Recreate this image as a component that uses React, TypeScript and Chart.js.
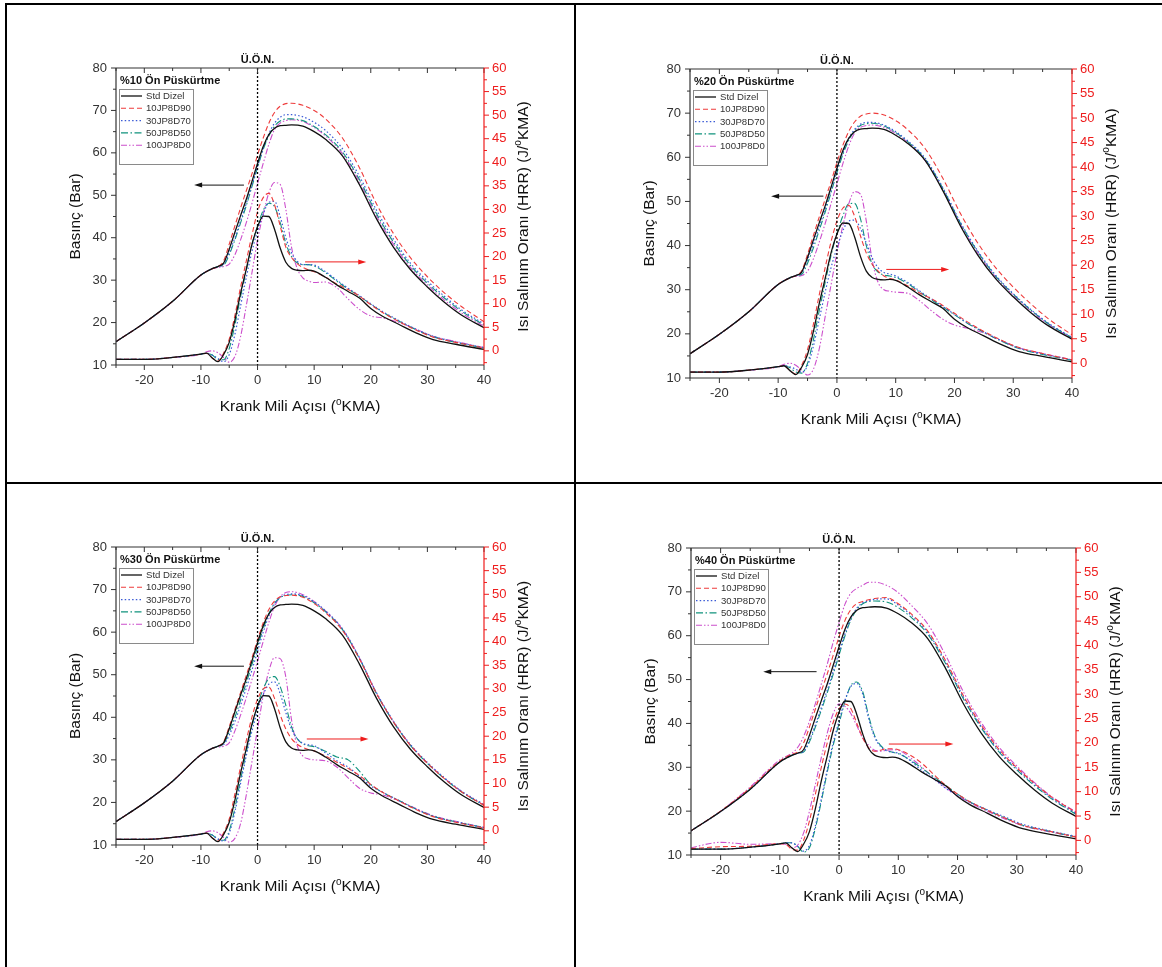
import React, { useEffect, useRef } from "react";
import { Chart, registerables } from "chart.js";

Chart.register(...registerables);

// ---------- data ----------
const SERIES = ["Std Dizel", "10JP8D90", "30JP8D70", "50JP8D50", "100JP8D0"];
const PANEL_TITLES = ["%10 Ön Püskürtme", "%20 Ön Püskürtme", "%30 Ön Püskürtme", "%40 Ön Püskürtme"];
const TDC_LABEL = "Ü.Ö.N.";

const X_TICKS = [-20, -10, 0, 10, 20, 30, 40];
const X_MINOR = [-25, -15, -5, 5, 15, 25, 35];
const Y_TICKS = [10, 20, 30, 40, 50, 60, 70, 80];
const Y_MINOR = [15, 25, 35, 45, 55, 65, 75];
const Y2_TICKS = [0, 5, 10, 15, 20, 25, 30, 35, 40, 45, 50, 55, 60];
const Y2_MINOR = [-2.5, 2.5, 7.5, 12.5, 17.5, 22.5, 27.5, 32.5, 37.5, 42.5, 47.5, 52.5, 57.5];

// crank angle grids
const PX = [-25, -20, -15, -10, -8, -7, -6, -5, -4, -3, -2, -1, 0, 1, 2, 3, 4, 5, 6, 8, 10, 12, 15, 18, 21, 24, 27, 30, 33, 36, 40];
const HX = [-25, -20, -15, -10, -9, -8, -7, -6, -5, -4, -3, -2, -1, 0, 1, 2, 3, 4, 5, 6, 7, 8, 9, 10, 12, 14, 16, 18, 20, 22, 25, 28, 31, 35, 40];

// Std Dizel (same reference curve in every panel)
const STD_P = [15.5, 19.9, 25.0, 31.2, 32.7, 33.2, 34.0, 37.3, 41.3, 45.2, 49.0, 53.2, 57.5, 61.5, 64.3, 65.8, 66.4, 66.5, 66.6, 66.3, 65.0, 63.2, 59.3, 52.5, 44.5, 37.8, 32.5, 28.4, 24.8, 21.8, 18.8];
const STD_H = [-1.8, -1.8, -1.4, -0.7, -0.5, -1.5, -2.3, -0.8, 1.8, 6.5, 12.2, 17.3, 22.5, 26.3, 28.6, 28.5, 25.8, 21.8, 18.8, 17.5, 17.1, 17.0, 17.1, 16.9, 15.6, 14.0, 12.6, 11.2, 9.0, 7.4, 5.6, 3.8, 2.4, 1.4, 0.3];

// %10
const P10_P_R = [15.5, 19.9, 25.0, 31.2, 32.7, 33.2, 34.5, 38.5, 42.8, 47.0, 51.0, 55.0, 59.5, 63.5, 67.0, 69.5, 71.0, 71.6, 71.7, 71.2, 70.0, 68.0, 63.5, 56.5, 48.0, 41.0, 35.3, 30.8, 27.0, 23.8, 20.2];
const P10_P_B = [15.5, 19.9, 25.0, 31.2, 32.7, 33.2, 33.7, 36.5, 40.0, 44.0, 48.0, 52.3, 56.8, 61.0, 64.5, 67.0, 68.4, 69.0, 69.0, 68.5, 67.2, 65.3, 61.0, 54.5, 46.5, 39.7, 34.0, 29.8, 26.2, 23.0, 19.7];
const P10_P_T = [15.5, 19.9, 25.0, 31.2, 32.7, 33.2, 33.5, 36.0, 39.5, 43.5, 47.5, 52.0, 56.5, 60.8, 64.0, 66.3, 67.5, 68.0, 68.0, 67.6, 66.2, 64.3, 60.2, 53.7, 45.7, 39.0, 33.5, 29.3, 25.8, 22.7, 19.4];
const P10_P_M = [15.5, 19.9, 25.0, 31.2, 32.7, 33.0, 33.2, 33.8, 36.0, 39.5, 43.5, 48.0, 52.8, 57.5, 62.0, 65.5, 67.0, 67.6, 67.8, 67.4, 66.0, 64.0, 59.8, 53.2, 45.2, 38.5, 33.0, 28.9, 25.3, 22.3, 19.1];
const P10_H_R = [-1.8, -1.8, -1.4, -0.7, -0.5, -1.5, -2.2, -0.5, 2.5, 7.5, 13.5, 19.0, 24.5, 29.5, 32.5, 33.4, 31.0, 26.5, 22.0, 19.8, 18.5, 17.7, 17.2, 16.8, 15.6, 14.2, 13.0, 11.6, 9.8, 8.2, 6.2, 4.4, 2.9, 1.8, 0.6];
const P10_H_B = [-1.8, -1.8, -1.4, -0.7, -0.5, -0.9, -1.6, -2.3, -0.8, 3.5, 9.5, 15.5, 21.0, 25.5, 29.0, 31.5, 31.7, 28.5, 24.0, 20.8, 19.0, 18.3, 18.3, 18.2, 16.8, 15.0, 13.3, 11.7, 10.0, 8.4, 6.4, 4.6, 3.1, 1.9, 0.7];
const P10_H_T = [-1.8, -1.8, -1.4, -0.7, -0.5, -0.9, -1.8, -1.9, 0.5, 5.5, 11.5, 17.0, 22.5, 26.5, 29.8, 31.3, 30.6, 27.2, 22.8, 20.0, 18.7, 18.3, 18.3, 18.0, 16.6, 14.8, 13.1, 11.6, 9.9, 8.3, 6.3, 4.5, 3.0, 1.8, 0.6];
const P10_H_M = [-1.8, -1.8, -1.4, -0.7, -0.2, 0.0, -0.4, -1.4, -2.4, -1.2, 3.0, 9.5, 16.5, 23.5, 29.0, 33.5, 35.7, 35.3, 30.0, 22.0, 17.5, 15.5, 14.8, 14.5, 14.6, 13.4, 11.0, 8.8, 7.4, 7.0, 6.0, 4.6, 3.1, 2.0, 0.7];

// %20
const P20_P_R = [15.5, 19.9, 25.0, 31.2, 32.7, 33.2, 34.3, 38.0, 42.3, 46.5, 50.5, 54.5, 58.8, 62.7, 65.8, 68.0, 69.3, 69.8, 70.0, 69.6, 68.3, 66.3, 62.0, 55.3, 47.3, 40.5, 35.0, 30.6, 26.8, 23.4, 19.8];
const P20_P_B = [15.5, 19.9, 25.0, 31.2, 32.7, 33.2, 33.8, 36.8, 40.4, 44.3, 48.3, 52.5, 57.0, 61.0, 64.2, 66.3, 67.5, 67.9, 67.9, 67.3, 65.8, 63.8, 59.8, 53.2, 45.3, 38.7, 33.3, 29.1, 25.5, 22.4, 19.2];
const P20_P_T = [15.5, 19.9, 25.0, 31.2, 32.7, 33.2, 33.5, 36.0, 39.5, 43.5, 47.6, 52.0, 56.5, 60.6, 63.8, 66.0, 67.2, 67.6, 67.7, 67.1, 65.6, 63.6, 59.6, 53.0, 45.1, 38.5, 33.1, 29.0, 25.4, 22.3, 19.1];
const P20_P_M = [15.5, 19.9, 25.0, 31.2, 32.7, 33.0, 33.2, 34.2, 37.0, 40.8, 45.0, 49.5, 54.0, 58.5, 62.5, 65.5, 66.8, 67.2, 67.3, 66.8, 65.4, 63.4, 59.3, 52.7, 44.8, 38.2, 32.9, 28.8, 25.2, 22.1, 19.0];
const P20_H_R = [-1.8, -1.8, -1.4, -0.7, -0.5, -1.5, -2.2, -0.4, 2.8, 8.0, 14.0, 19.5, 24.8, 29.0, 31.6, 32.2, 30.0, 26.0, 22.5, 20.2, 18.8, 17.8, 17.3, 17.0, 15.8, 14.4, 13.2, 11.8, 10.2, 8.6, 6.5, 4.7, 3.2, 2.0, 0.7];
const P20_H_B = [-1.8, -1.8, -1.4, -0.7, -0.5, -0.7, -1.2, -1.8, -0.5, 3.5, 9.0, 14.5, 19.5, 23.5, 27.0, 29.0, 29.2, 27.5, 24.5, 21.5, 19.5, 18.5, 18.2, 17.8, 16.5, 14.8, 13.2, 11.6, 10.0, 8.4, 6.4, 4.6, 3.1, 1.9, 0.7];
const P20_H_T = [-1.8, -1.8, -1.4, -0.7, -0.5, -0.9, -1.8, -2.0, 0.0, 4.8, 10.8, 16.5, 22.0, 26.5, 30.0, 32.5, 32.6, 29.5, 24.0, 20.2, 18.6, 18.0, 17.8, 17.5, 16.3, 14.6, 13.0, 11.5, 9.9, 8.3, 6.3, 4.5, 3.0, 1.8, 0.6];
const P20_H_M = [-1.8, -1.8, -1.4, -0.7, -0.2, 0.0, -0.4, -1.4, -2.4, -1.2, 3.0, 9.5, 16.0, 22.5, 28.0, 32.5, 35.0, 34.5, 29.0, 21.0, 16.5, 15.0, 14.7, 14.5, 14.3, 12.8, 10.8, 9.0, 7.8, 7.2, 6.2, 4.6, 3.1, 2.0, 0.7];

// %30
const P30_P_R = [15.5, 19.9, 25.0, 31.2, 32.7, 33.2, 34.2, 37.8, 41.8, 45.8, 49.8, 53.9, 58.2, 62.2, 65.3, 67.3, 68.3, 68.6, 68.7, 68.2, 66.7, 64.6, 60.4, 53.7, 45.6, 38.9, 33.4, 29.2, 25.6, 22.5, 19.3];
const P30_P_B = [15.5, 19.9, 25.0, 31.2, 32.7, 33.2, 33.6, 35.8, 39.0, 42.8, 46.8, 51.0, 55.5, 60.0, 63.8, 66.6, 68.2, 68.8, 69.0, 68.6, 67.1, 65.0, 60.8, 54.0, 45.8, 39.1, 33.6, 29.4, 25.8, 22.7, 19.5];
const P30_P_T = [15.5, 19.9, 25.0, 31.2, 32.7, 33.2, 33.8, 36.5, 40.0, 44.0, 48.0, 52.3, 56.6, 60.8, 64.3, 66.8, 68.1, 68.6, 68.8, 68.4, 66.9, 64.8, 60.6, 53.8, 45.6, 38.9, 33.4, 29.2, 25.6, 22.5, 19.3];
const P30_P_M = [15.5, 19.9, 25.0, 31.2, 32.7, 33.0, 33.2, 34.0, 36.8, 40.5, 44.5, 48.8, 53.2, 57.8, 62.3, 66.0, 68.3, 69.3, 69.5, 68.8, 67.2, 65.0, 60.7, 53.9, 45.7, 39.0, 33.5, 29.3, 25.7, 22.6, 19.4];
const P30_H_R = [-1.8, -1.8, -1.4, -0.7, -0.5, -1.5, -2.2, -0.4, 2.5, 7.8, 13.5, 19.0, 24.0, 27.8, 30.0, 30.4, 28.0, 24.5, 21.5, 19.5, 18.3, 17.6, 17.2, 16.9, 15.8, 14.5, 13.2, 11.7, 9.8, 8.2, 6.3, 4.5, 3.0, 1.8, 0.6];
const P30_H_B = [-1.8, -1.8, -1.4, -0.7, -0.5, -0.9, -1.7, -2.2, -0.5, 4.0, 10.0, 15.8, 21.0, 25.3, 28.8, 31.0, 31.5, 29.0, 25.0, 21.5, 19.5, 18.5, 18.2, 18.0, 16.5, 14.8, 13.5, 11.5, 9.5, 8.2, 6.4, 4.6, 3.1, 1.9, 0.7];
const P30_H_T = [-1.8, -1.8, -1.4, -0.7, -0.5, -0.9, -1.8, -2.0, 0.0, 4.8, 10.8, 16.5, 22.0, 26.5, 30.0, 32.2, 32.6, 30.5, 26.5, 22.0, 19.5, 18.4, 18.0, 17.8, 16.8, 15.6, 15.0, 12.6, 9.8, 8.2, 6.4, 4.6, 3.1, 1.9, 0.7];
const P30_H_M = [-1.8, -1.8, -1.4, -0.7, -0.2, 0.0, -0.4, -1.4, -2.4, -1.6, 1.5, 7.5, 14.5, 21.5, 28.5, 33.8, 36.6, 36.4, 32.5, 23.5, 18.0, 15.8, 15.2, 15.0, 14.8, 13.5, 11.2, 9.0, 8.0, 7.6, 6.3, 4.7, 3.2, 2.0, 0.7];

// %40
const P40_P_R = [15.5, 20.0, 25.3, 31.4, 33.0, 33.5, 35.5, 39.2, 43.3, 47.3, 51.3, 55.5, 59.8, 63.5, 66.0, 67.3, 67.8, 68.2, 68.5, 68.7, 67.3, 65.2, 61.0, 54.3, 46.3, 39.6, 34.1, 29.9, 26.3, 23.1, 19.7];
const P40_P_B = [15.5, 19.9, 25.0, 31.2, 32.7, 33.2, 33.6, 36.2, 39.7, 43.6, 47.6, 51.8, 56.2, 60.5, 64.0, 66.3, 67.5, 68.0, 68.3, 68.4, 67.0, 64.9, 60.7, 54.0, 46.0, 39.3, 33.8, 29.7, 26.1, 22.9, 19.5];
const P40_P_T = [15.5, 19.9, 25.0, 31.2, 32.7, 33.2, 33.5, 35.8, 39.2, 43.0, 47.0, 51.2, 55.6, 60.0, 63.6, 66.0, 67.3, 67.8, 67.9, 67.7, 66.4, 64.4, 60.3, 53.6, 45.6, 39.0, 33.5, 29.4, 25.8, 22.7, 19.3];
const P40_P_M = [15.5, 20.0, 25.5, 31.7, 33.2, 34.5, 37.0, 40.5, 44.5, 49.0, 53.5, 58.5, 63.0, 67.2, 69.7, 70.8, 71.5, 72.2, 72.2, 71.5, 69.8, 67.2, 62.6, 55.5, 47.2, 40.2, 34.6, 30.3, 26.5, 23.2, 19.8];
const P40_H_R = [-1.7, -1.3, -1.2, -0.7, -0.8, -1.8, -2.0, 0.0, 4.0, 9.5, 15.0, 20.0, 24.2, 27.0, 28.0, 27.0, 24.0, 21.0, 19.0, 18.3, 18.5, 18.8, 18.8, 18.6, 17.5, 15.8, 13.5, 11.3, 9.5, 8.0, 6.2, 4.6, 3.1, 2.0, 0.7];
const P40_H_B = [-1.8, -1.8, -1.4, -0.7, -0.5, -0.5, -1.2, -2.2, -1.0, 3.0, 8.5, 14.5, 20.0, 24.5, 28.8, 31.6, 32.2, 30.0, 25.0, 21.2, 19.3, 18.4, 18.1, 17.9, 16.4, 14.3, 12.6, 10.7, 9.2, 7.9, 6.3, 4.8, 3.3, 2.1, 0.8];
const P40_H_T = [-1.8, -1.8, -1.4, -0.7, -0.5, -0.5, -1.2, -2.4, -1.5, 2.5, 8.0, 14.0, 19.5, 24.0, 28.5, 31.8, 32.5, 30.5, 25.5, 21.5, 19.5, 18.5, 18.1, 17.8, 16.5, 14.8, 13.0, 11.3, 9.5, 8.0, 6.2, 4.6, 3.1, 2.0, 0.7];
const P40_H_M = [-1.5, -0.4, -0.8, -0.7, -0.8, -1.5, -1.0, 1.5, 6.0, 11.5, 17.0, 22.0, 26.0, 28.0, 27.5, 26.0, 23.5, 21.0, 19.5, 18.5, 18.3, 18.5, 18.6, 18.5, 17.0, 15.0, 12.8, 10.8, 9.2, 7.8, 6.0, 4.4, 3.0, 1.9, 0.7];

// annotation arrows: [tail x, head x, y (bar)]
const ARROW_LEFT = [[-2.4, -11.2, 52.4], [-2.3, -11.2, 51.2], [-2.4, -11.2, 52.0], [-3.8, -12.8, 51.8]];
const ARROW_RIGHT = [[8.4, 19.2, 34.3], [8.4, 19.1, 34.6], [8.7, 19.6, 34.9], [8.4, 19.3, 35.3]];

const PRESSURES = [
  [STD_P, P10_P_R, P10_P_B, P10_P_T, P10_P_M],
  [STD_P, P20_P_R, P20_P_B, P20_P_T, P20_P_M],
  [STD_P, P30_P_R, P30_P_B, P30_P_T, P30_P_M],
  [STD_P, P40_P_R, P40_P_B, P40_P_T, P40_P_M],
];
const HRRS = [
  [STD_H, P10_H_R, P10_H_B, P10_H_T, P10_H_M],
  [STD_H, P20_H_R, P20_H_B, P20_H_T, P20_H_M],
  [STD_H, P30_H_R, P30_H_B, P30_H_T, P30_H_M],
  [STD_H, P40_H_R, P40_H_B, P40_H_T, P40_H_M],
];

// ---------- layout & style ----------
const LAYOUT = [
  { l: 116, t: 68, w: 368, h: 297 },
  { l: 690, t: 69, w: 382, h: 309 },
  { l: 116, t: 547, w: 368, h: 298 },
  { l: 691, t: 548, w: 385, h: 307 },
];
const PAD_L = 90, PAD_R = 70, PAD_T = 40, PAD_B = 60;

const FONT = '"Liberation Sans", Arial, Helvetica, sans-serif';
const AXIS = "#333333";
const RED = "#ee1c1c";
const STYLE = [
  { color: "#111111", dash: [] as number[], width: 1.3 },
  { color: "#ee3b3b", dash: [5, 3], width: 1.1 },
  { color: "#3b5bd6", dash: [1.5, 2.2], width: 1.2 },
  { color: "#10937d", dash: [7, 2.5, 1.5, 2.5], width: 1.1 },
  { color: "#cc4fcc", dash: [6, 2, 1.5, 2, 1.5, 2], width: 1.1 },
];

type Part = [string, boolean];
const X_TITLE: Part[] = [["Krank Mili Açısı (", false], ["o", true], ["KMA)", false]];
const Y_TITLE: Part[] = [["Basınç (Bar)", false]];
const Y2_TITLE: Part[] = [["Isı Salınım Oranı (HRR) (J/", false], ["o", true], ["KMA)", false]];

function drawRich(ctx: CanvasRenderingContext2D, parts: Part[], cx: number, cy: number, size: number) {
  const fn = `${size}px ${FONT}`;
  const fs = `${Math.round(size * 0.64)}px ${FONT}`;
  let total = 0;
  for (const [t, sup] of parts) {
    ctx.font = sup ? fs : fn;
    total += ctx.measureText(t).width;
  }
  let x = cx - total / 2;
  ctx.textAlign = "left";
  ctx.textBaseline = "middle";
  for (const [t, sup] of parts) {
    ctx.font = sup ? fs : fn;
    ctx.fillText(t, x, sup ? cy - size * 0.33 : cy);
    x += ctx.measureText(t).width;
  }
}

function seg(ctx: CanvasRenderingContext2D, x1: number, y1: number, x2: number, y2: number) {
  ctx.beginPath();
  ctx.moveTo(x1, y1);
  ctx.lineTo(x2, y2);
  ctx.stroke();
}

function arrow(ctx: CanvasRenderingContext2D, x1: number, x2: number, y: number, color: string) {
  ctx.strokeStyle = color;
  ctx.fillStyle = color;
  ctx.lineWidth = 1;
  ctx.setLineDash([]);
  const dir = Math.sign(x2 - x1);
  seg(ctx, x1, y, x2 - dir * 5, y);
  ctx.beginPath();
  ctx.moveTo(x2, y);
  ctx.lineTo(x2 - dir * 8, y - 2.5);
  ctx.lineTo(x2 - dir * 8, y + 2.5);
  ctx.closePath();
  ctx.fill();
}

function makeDecor(idx: number) {
  return {
    id: "decor" + idx,
    afterDraw(chart: any) {
      const { ctx, chartArea: a, scales } = chart;
      const sx = scales.x, sy = scales.y, sy2 = scales.y2;
      ctx.save();
      // TDC dotted line
      const x0 = sx.getPixelForValue(0);
      ctx.strokeStyle = "#000";
      ctx.lineWidth = 1.3;
      ctx.setLineDash([2, 2]);
      seg(ctx, x0, a.top, x0, a.bottom);
      ctx.setLineDash([]);
      // frame
      ctx.strokeStyle = AXIS;
      ctx.lineWidth = 1.2;
      seg(ctx, a.left, a.top, a.right, a.top);
      seg(ctx, a.left, a.top, a.left, a.bottom);
      seg(ctx, a.left, a.bottom, a.right, a.bottom);
      ctx.lineWidth = 1;
      for (const v of X_TICKS) {
        const p = sx.getPixelForValue(v);
        seg(ctx, p, a.bottom, p, a.bottom + 5);
        seg(ctx, p, a.top, p, a.top + 5);
      }
      for (const v of X_MINOR) {
        const p = sx.getPixelForValue(v);
        seg(ctx, p, a.bottom, p, a.bottom + 3);
        seg(ctx, p, a.top, p, a.top + 3);
      }
      for (const v of Y_TICKS) {
        const p = sy.getPixelForValue(v);
        seg(ctx, a.left - 5, p, a.left, p);
      }
      for (const v of Y_MINOR) {
        const p = sy.getPixelForValue(v);
        seg(ctx, a.left - 3, p, a.left, p);
      }
      // right red axis
      ctx.strokeStyle = RED;
      ctx.lineWidth = 1.2;
      seg(ctx, a.right, a.top, a.right, a.bottom);
      ctx.lineWidth = 1;
      for (const v of Y2_TICKS) {
        const p = sy2.getPixelForValue(v);
        seg(ctx, a.right, p, a.right + 5, p);
      }
      for (const v of Y2_MINOR) {
        const p = sy2.getPixelForValue(v);
        seg(ctx, a.right, p, a.right + 3, p);
      }
      // TDC label
      ctx.fillStyle = "#111";
      ctx.font = `bold 11px ${FONT}`;
      ctx.textAlign = "center";
      ctx.textBaseline = "middle";
      ctx.fillText(TDC_LABEL, x0, a.top - 8.5);
      // axis titles
      ctx.fillStyle = "#111";
      drawRich(ctx, X_TITLE, (a.left + a.right) / 2, a.bottom + 42, 15.5);
      ctx.save();
      ctx.translate(a.left - 40, (a.top + a.bottom) / 2);
      ctx.rotate(-Math.PI / 2);
      drawRich(ctx, Y_TITLE, 0, 0, 15.5);
      ctx.restore();
      ctx.save();
      ctx.translate(a.right + 39.5, (a.top + a.bottom) / 2);
      ctx.rotate(-Math.PI / 2);
      drawRich(ctx, Y2_TITLE, 0, 0, 15.5);
      ctx.restore();
      // legend
      ctx.fillStyle = "#111";
      ctx.font = `bold 11px ${FONT}`;
      ctx.textAlign = "left";
      ctx.textBaseline = "middle";
      ctx.fillText(PANEL_TITLES[idx], a.left + 4, a.top + 13);
      ctx.strokeStyle = "#8a8a8a";
      ctx.lineWidth = 1;
      ctx.strokeRect(Math.round(a.left + 3) + 0.5, Math.round(a.top + 21) + 0.5, 74, 75);
      ctx.font = `9.6px ${FONT}`;
      SERIES.forEach((name, i) => {
        const yy = a.top + 28 + i * 12.3;
        const st = STYLE[i];
        ctx.strokeStyle = st.color;
        ctx.lineWidth = st.width;
        ctx.setLineDash(st.dash);
        seg(ctx, a.left + 5, yy, a.left + 26, yy);
        ctx.setLineDash([]);
        ctx.fillStyle = "#333";
        ctx.fillText(name, a.left + 30, yy + 0.5);
      });
      // arrows
      const al = ARROW_LEFT[idx];
      arrow(ctx, sx.getPixelForValue(al[0]), sx.getPixelForValue(al[1]), sy.getPixelForValue(al[2]), "#111");
      const ar = ARROW_RIGHT[idx];
      arrow(ctx, sx.getPixelForValue(ar[0]), sx.getPixelForValue(ar[1]), sy.getPixelForValue(ar[2]), RED);
      ctx.restore();
    },
  };
}

function buildConfig(idx: number): any {
  const datasets: any[] = [];
  PRESSURES[idx].forEach((arr, i) => {
    datasets.push({
      label: SERIES[i] + " P",
      yAxisID: "y",
      data: PX.map((x, k) => ({ x, y: arr[k] })),
      borderColor: STYLE[i].color,
      borderDash: STYLE[i].dash,
      borderWidth: STYLE[i].width,
      pointRadius: 0,
      fill: false,
      cubicInterpolationMode: "monotone",
    });
  });
  HRRS[idx].forEach((arr, i) => {
    datasets.push({
      label: SERIES[i] + " HRR",
      yAxisID: "y2",
      data: HX.map((x, k) => ({ x, y: arr[k] })),
      borderColor: STYLE[i].color,
      borderDash: STYLE[i].dash,
      borderWidth: STYLE[i].width,
      pointRadius: 0,
      fill: false,
      cubicInterpolationMode: "monotone",
    });
  });
  const tickFont = { family: FONT, size: 13 };
  return {
    type: "line",
    data: { datasets },
    plugins: [makeDecor(idx)],
    options: {
      animation: false,
      responsive: false,
      devicePixelRatio: 1,
      layout: { padding: { top: PAD_T, left: 0, right: 0, bottom: 0 } },
      plugins: { legend: { display: false }, tooltip: { enabled: false }, title: { display: false } },
      scales: {
        x: {
          type: "linear",
          position: "bottom",
          min: -25,
          max: 40,
          afterBuildTicks: (s: any) => { s.ticks = X_TICKS.map((v) => ({ value: v })); },
          afterFit: (s: any) => { s.height = PAD_B; },
          grid: { display: false, drawTicks: false },
          border: { display: false },
          ticks: { font: tickFont, color: AXIS, padding: 8, maxRotation: 0, autoSkip: false },
        },
        y: {
          type: "linear",
          position: "left",
          min: 10,
          max: 80,
          afterBuildTicks: (s: any) => { s.ticks = Y_TICKS.map((v) => ({ value: v })); },
          afterFit: (s: any) => { s.width = PAD_L; },
          grid: { display: false, drawTicks: false },
          border: { display: false },
          ticks: { font: tickFont, color: AXIS, padding: 9, autoSkip: false },
        },
        y2: {
          type: "linear",
          position: "right",
          min: -3,
          max: 60,
          afterBuildTicks: (s: any) => { s.ticks = Y2_TICKS.map((v) => ({ value: v })); },
          afterFit: (s: any) => { s.width = PAD_R; },
          grid: { display: false, drawTicks: false },
          border: { display: false },
          ticks: { font: tickFont, color: RED, padding: 8, autoSkip: false },
        },
      },
    },
  };
}

function Panel({ idx }: { idx: number }) {
  const ref = useRef<HTMLCanvasElement>(null);
  const L = LAYOUT[idx];
  const w = L.w + PAD_L + PAD_R;
  const h = L.h + PAD_T + PAD_B;
  useEffect(() => {
    if (!ref.current) return;
    const chart = new Chart(ref.current, buildConfig(idx));
    return () => chart.destroy();
  }, [idx]);
  return (
    <canvas
      ref={ref}
      width={w}
      height={h}
      style={{ position: "absolute", left: L.l - PAD_L, top: L.t - PAD_T, width: w, height: h }}
    />
  );
}

export default function App() {
  const line = (left: number, top: number, width: number, height: number) => (
    <div style={{ position: "absolute", left, top, width, height, background: "#000" }} />
  );
  return (
    <div style={{ position: "absolute", left: 0, top: 0, width: 1162, height: 967, background: "#fff", overflow: "hidden" }}>
      {line(5, 3, 1157, 2)}
      {line(5, 3, 2, 964)}
      {line(574, 3, 2, 964)}
      {line(5, 482, 1157, 2)}
      {[0, 1, 2, 3].map((i) => (
        <Panel key={i} idx={i} />
      ))}
    </div>
  );
}
